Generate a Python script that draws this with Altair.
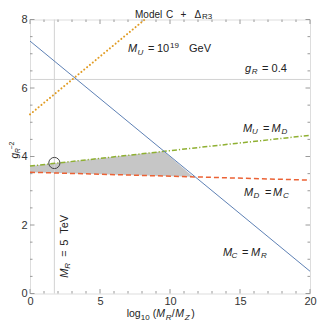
import altair as alt
import pandas as pd

# ---- data ----
line_x = [0, 20]
blue_y = [7.37, 0.65]          # M_C = M_R
orange_x = [0, 8.2]            # M_U = 10^19 GeV
orange_y = [5.23, 8.0]
green_y = [3.72, 4.62]         # M_U = M_D
red_y = [3.54, 3.31]           # M_D = M_C
fill_x = [0, 9.55, 11.65]
fill_top = [3.72, 4.15, 3.41]
fill_bottom = [3.54, 3.43, 3.41]
gR_value = [6.25]              # g_R = 0.4
MR_value = [1.74]              # M_R = 5 TeV
circle_x = [1.74]
circle_y = [3.81]
x_major = [0, 5, 10, 15, 20]
x_minor = [i for i in range(1, 20) if i % 5]
y_major = [0, 2, 4, 6, 8]
y_minor = [0.5, 1, 1.5, 2.5, 3, 3.5, 4.5, 5, 5.5, 6.5, 7, 7.5]

W, H = 280, 274
FONT = "Liberation Sans"
FRAME = "#9a9a9a"

xs = alt.Scale(domain=[0, 20], nice=False, zero=False)
ys = alt.Scale(domain=[0, 8], nice=False, zero=False)
AX_X = alt.Axis(values=x_major, labelFont=FONT, labelFontSize=11, labelColor="#333",
                labelPadding=2, labelFlush=False, title=None, domain=False, ticks=False,
                tickSize=0, grid=False)
AX_Y = alt.Axis(values=y_major, labelFont=FONT, labelFontSize=11, labelColor="#333",
                labelPadding=3, labelFlush=False, title=None, domain=False, ticks=False,
                tickSize=0, grid=False)


def X(field="x"):
    return alt.X(f"{field}:Q", scale=xs, axis=AX_X)


def Y(field="y"):
    return alt.Y(f"{field}:Q", scale=ys, axis=AX_Y)


layers = []

# shaded region
fill_df = pd.DataFrame({"x": fill_x, "top": fill_top, "bot": fill_bottom})
layers.append(
    alt.Chart(fill_df).mark_area(color="#c6c6c6", opacity=1).encode(
        x=X("x"), y=Y("top"), y2="bot:Q",
    )
)

# reference gray lines
layers.append(alt.Chart(pd.DataFrame({"y": gR_value})).mark_rule(color="#d2d2d2", strokeWidth=1)
              .encode(y=Y("y")))
layers.append(alt.Chart(pd.DataFrame({"x": MR_value})).mark_rule(color="#d2d2d2", strokeWidth=1)
              .encode(x=X("x")))


def line_layer(xv, yv, color, width, dash=None, cap="butt"):
    kw = dict(color=color, strokeWidth=width, strokeCap=cap)
    if dash:
        kw["strokeDash"] = dash
    return alt.Chart(pd.DataFrame({"x": xv, "y": yv})).mark_line(**kw).encode(x=X(), y=Y())


layers.append(line_layer(line_x, green_y, "#8fb032", 1.5, [5, 2, 1.2, 2]))
layers.append(line_layer(line_x, red_y, "#eb6235", 1.5, [5, 3]))
layers.append(line_layer(line_x, blue_y, "#5e81b5", 1))
layers.append(line_layer(orange_x, orange_y, "#e19c24", 2, [0.1, 3.6], "round"))

# circle
layers.append(alt.Chart(pd.DataFrame({"x": circle_x, "y": circle_y}))
              .mark_point(shape="circle", filled=False, size=125, color="#444", strokeWidth=1, opacity=1)
              .encode(x=X(), y=Y()))


# inner frame ticks
def tick_layer(vals, horizontal_axis, side, length):
    df = pd.DataFrame({"v": vals})
    m = alt.Chart(df).mark_rule(color=FRAME, strokeWidth=1)
    if horizontal_axis:
        if side == "bottom":
            return m.encode(x=X("v"), y=alt.value(H), y2=alt.value(H - length))
        return m.encode(x=X("v"), y=alt.value(0), y2=alt.value(length))
    if side == "left":
        return m.encode(y=Y("v"), x=alt.value(0), x2=alt.value(length))
    return m.encode(y=Y("v"), x=alt.value(W), x2=alt.value(W - length))


for side in ["bottom", "top"]:
    layers.append(tick_layer(x_major, True, side, 4.5))
    layers.append(tick_layer(x_minor, True, side, 2.5))
for side in ["left", "right"]:
    layers.append(tick_layer(y_major, False, side, 4.5))
    layers.append(tick_layer(y_minor, False, side, 2.5))

# ---- annotations: (anchor x, anchor y, angle, [(text, dx, dy, size, italic)]) ----
labels = [
    (7.0, 7.04, 0, [("M", 0, 0, 11, True), ("U", 9.5, 2.5, 8, True), ("=", 20, 0, 11, False),
                    ("10", 29, 0, 11, False), ("19", 42, -4.5, 8, False), ("GeV", 61, 0, 11, False)]),
    (15.36, 6.47, 0, [("g", 0, 0, 11, True), ("R", 6.8, 2.5, 8, True), ("=", 17, 0, 11, False),
                      ("0.4", 26.5, 0, 11, False)]),
    (15.21, 4.72, 0, [("M", 0, 0, 11, True), ("U", 9, 2.5, 8, True), ("=", 20, 0, 11, False),
                      ("M", 28.5, 0, 11, True), ("D", 38.5, 2.5, 8, True)]),
    (15.29, 2.86, 0, [("M", 0, 0, 11, True), ("D", 9.5, 2.5, 8, True), ("=", 21, 0, 11, False),
                      ("M", 29, 0, 11, True), ("C", 39, 2.5, 8, True)]),
    (13.79, 1.10, 0, [("M", 0, 0, 11, True), ("C", 8.5, 2.5, 8, True), ("=", 19, 0, 11, False),
                      ("M", 28, 0, 11, True), ("R", 38, 2.5, 8, True)]),
    (2.71, 0.46, 270, [("M", 0, 0, 11, True), ("R", 9, 2.5, 8, True), ("=", 21, 0, 11, False),
                       ("5", 32, 0, 11, False), ("TeV", 44, 0, 11, False)]),
    # title
    (7.5, 8.058, 0, [("Model", 0, 0, 10, False), ("C", 31, 0, 10, False), ("+", 45.5, 0, 10, False),
                     ("Δ", 59.5, 0, 10, False), ("R3", 67, 1.5, 8, False)]),
    # x axis title
    (6.907, -0.70, 0, [("log", 0, 0, 10.5, False), ("10", 14, 2.5, 8, False), ("(", 26, 0, 10.5, False),
                       ("M", 29.5, 0, 10.5, True), ("R", 39, 2.5, 8, True), ("/", 45, 0, 10.5, False),
                       ("M", 48.5, 0, 10.5, True), ("Z", 58, 2.5, 8, True), (")", 64.5, 0, 10.5, False)]),
    # y axis title
    (-0.857, 3.94, 270, [("g", 0, 0, 10, True), ("R", 5.3, 2, 7, True), ("−2", 9, -4.5, 7, False)]),
]

for ax, ay, ang, pieces in labels:
    df = pd.DataFrame({"x": [ax], "y": [ay]})
    for txt, dx, dy, size, ital in pieces:
        kw = dict(text=txt, dx=dx, dy=dy, fontSize=size, font=FONT, color="#222",
                  align="left", baseline="alphabetic")
        if ital:
            kw["fontStyle"] = "italic"
        if ang:
            kw["angle"] = ang
        layers.append(alt.Chart(df).mark_text(**kw).encode(x=X(), y=Y()))

chart = alt.layer(*layers).properties(
    width=W, height=H,
    autosize=alt.AutoSizeParams(type="none"),
    padding={"left": 22, "top": 11.5, "right": 9, "bottom": 28.5},
).configure_view(stroke=FRAME, strokeWidth=1).configure(background="white")

chart.save("out.html", embed_options={"renderer": "svg", "actions": False})
